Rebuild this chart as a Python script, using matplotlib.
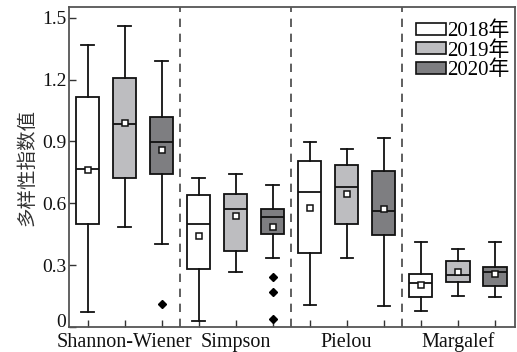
import matplotlib
matplotlib.use("Agg")
import matplotlib.pyplot as plt
from matplotlib.patches import Patch

plt.rcParams['font.family'] = ['Liberation Serif', 'Noto Sans CJK SC']

# indices and years
indices = ["Shannon-Wiener", "Simpson", "Pielou", "Margalef"]
years = ["2018年", "2019年", "2020年"]
colors = ["#ffffff", "#bdbdc0", "#7e7e81"]

# box statistics, order: index x year
whislo = [0.073, 0.484, 0.405,
          0.029, 0.267, 0.333,
          0.105, 0.335, 0.104,
          0.076, 0.149, 0.144]
q1 = [0.499, 0.722, 0.741,
      0.279, 0.369, 0.453,
      0.359, 0.500, 0.444,
      0.146, 0.217, 0.199]
med = [0.764, 0.984, 0.898,
       0.500, 0.573, 0.532,
       0.657, 0.678, 0.565,
       0.215, 0.252, 0.267]
q3 = [1.117, 1.206, 1.017,
      0.639, 0.643, 0.573,
      0.804, 0.788, 0.756,
      0.257, 0.322, 0.291]
whishi = [1.367, 1.458, 1.288,
          0.723, 0.741, 0.688,
          0.895, 0.861, 0.916,
          0.413, 0.377, 0.410]
means = [0.761, 0.989, 0.858,
         0.442, 0.537, 0.485,
         0.578, 0.643, 0.573,
         0.202, 0.265, 0.256]
fliers = [[], [], [0.113],
          [], [], [0.243, 0.168, 0.041],
          [], [], [],
          [], [], []]

stats = []
for i in range(12):
    stats.append({"whislo": whislo[i], "q1": q1[i], "med": med[i], "q3": q3[i],
                  "whishi": whishi[i], "mean": means[i], "fliers": fliers[i]})

positions = list(range(1, 13))

fig = plt.figure(figsize=(5.17, 3.52), dpi=100)
ax = fig.add_axes([0.1335, 0.071, 0.8627, 0.909])

bp = ax.bxp(stats, positions=positions, widths=0.64, patch_artist=True,
            showmeans=True, showfliers=True,
            boxprops=dict(edgecolor="#111111", linewidth=1.3),
            medianprops=dict(color="#111111", linewidth=1.3),
            whiskerprops=dict(color="#111111", linewidth=1.3),
            capprops=dict(color="#111111", linewidth=1.3),
            capwidths=0.33,
            meanprops=dict(marker="s", markersize=4.5, markerfacecolor="white",
                           markeredgecolor="#111111", markeredgewidth=1.1),
            flierprops=dict(marker="D", markersize=4, markerfacecolor="black",
                            markeredgecolor="black"))
for k, box in enumerate(bp["boxes"]):
    box.set_facecolor(colors[k % 3])

# dashed separators
for x in [3.5, 6.5, 9.5]:
    ax.axvline(x, color="#444444", linestyle=(0, (5, 4)), linewidth=1.2)

ax.set_xlim(0.5, 12.55)
ax.set_ylim(0, 1.552)
ax.set_yticks([0, 0.3, 0.6, 0.9, 1.2, 1.5])
ax.set_yticklabels(["0", "0.3", "0.6", "0.9", "1.2", "1.5"])
ax.get_yticklabels()[0].set_va("baseline")
ax.set_xticks(positions)
labels = []
for i in range(12):
    labels.append(indices[i // 3] if i % 3 == 1 else "")
ax.set_xticklabels(labels)
ax.tick_params(direction="in", labelsize=14, length=5, width=1, colors="#333333",
               labelcolor="#111111", pad=2)
ax.tick_params(axis="x", labelsize=14.5, pad=4)
for s in ax.spines.values():
    s.set_color("#555555")
    s.set_linewidth(1.3)

ax.set_ylabel("多样性指数值", fontsize=14, color="#333333", labelpad=4)

handles = [Patch(facecolor=c, edgecolor="#111111", linewidth=1.2) for c in colors]
ax.legend(handles, years, loc="upper left", bbox_to_anchor=(0.778, 0.955),
          frameon=False, fontsize=15, handlelength=1.45, handleheight=0.5,
          handletextpad=0.05, labelspacing=0.0, borderpad=0, borderaxespad=0)

fig.savefig("out.png", dpi=100)
